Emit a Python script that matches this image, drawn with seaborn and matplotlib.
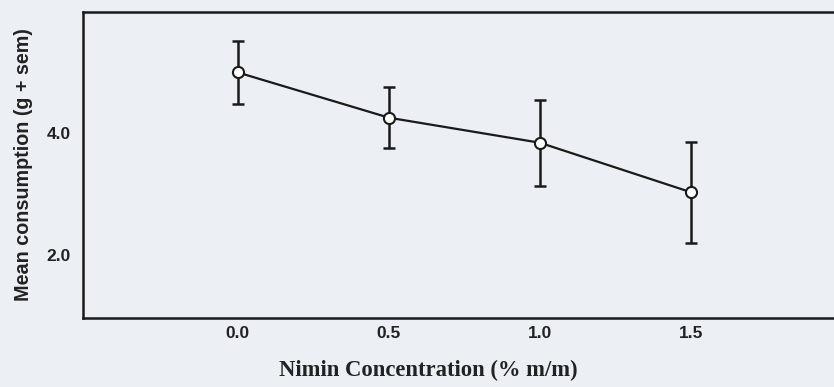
import numpy as np
import pandas as pd
import matplotlib
matplotlib.use("Agg")
import matplotlib.pyplot as plt
import seaborn as sns

conc = [0.0, 0.5, 1.0, 1.5]
mean_cons = [4.99, 4.25, 3.84, 3.03]
sem = [0.51, 0.50, 0.70, 0.83]
xtick_vals = [0.0, 0.5, 1.0, 1.5]
ytick_vals = [2.0, 4.0]

sns.set_style("white")
bg = "#eceff3"

df = pd.DataFrame({"conc": conc, "mean": mean_cons, "sem": sem})

fig = plt.figure(figsize=(8.34, 3.87), dpi=100, facecolor=bg)
ax = fig.add_axes([0.0995, 0.178, 0.93, 0.791])
ax.set_facecolor(bg)

ax.errorbar(df["conc"], df["mean"], yerr=df["sem"], fmt="none",
            ecolor="#1a1a1a", elinewidth=1.8, capsize=4, capthick=1.8, zorder=2)
sns.lineplot(data=df, x="conc", y="mean", ax=ax, color="#1a1a1a", linewidth=1.6,
             marker="o", markersize=8, markerfacecolor="white",
             markeredgecolor="#1a1a1a", markeredgewidth=1.5, zorder=3)

ax.set_xlim(-0.513, 2.055)
ax.set_ylim(0.97, 5.98)
ax.set_xticks(xtick_vals)
ax.set_xticklabels([f"{v:.1f}" for v in xtick_vals])
ax.set_yticks(ytick_vals)
ax.set_yticklabels([f"{v:.1f}" for v in ytick_vals])
ax.tick_params(length=0, labelsize=12.5, colors="#222222")
ax.tick_params(axis="x", pad=6)
ax.tick_params(axis="y", pad=9)
for lab in ax.get_xticklabels() + ax.get_yticklabels():
    lab.set_fontfamily("Liberation Sans")
    lab.set_fontweight("bold")

ax.set_xlabel("Nimin Concentration (% m/m)", fontfamily="Liberation Serif",
              fontweight="bold", fontsize=16.3, color="#222222")
ax.xaxis.set_label_coords(0.445, -0.135)
ax.set_ylabel("Mean consumption (g + sem)", fontfamily="Liberation Sans",
              fontweight="bold", fontsize=14.2, color="#222222")
ax.yaxis.set_label_coords(-0.0645, 0.5)

for side in ["top", "bottom", "left"]:
    ax.spines[side].set_visible(True)
    ax.spines[side].set_color("#1a1a1a")
    ax.spines[side].set_linewidth(1.8)
ax.spines["right"].set_visible(False)

fig.savefig("out.png", dpi=100, facecolor=bg)
